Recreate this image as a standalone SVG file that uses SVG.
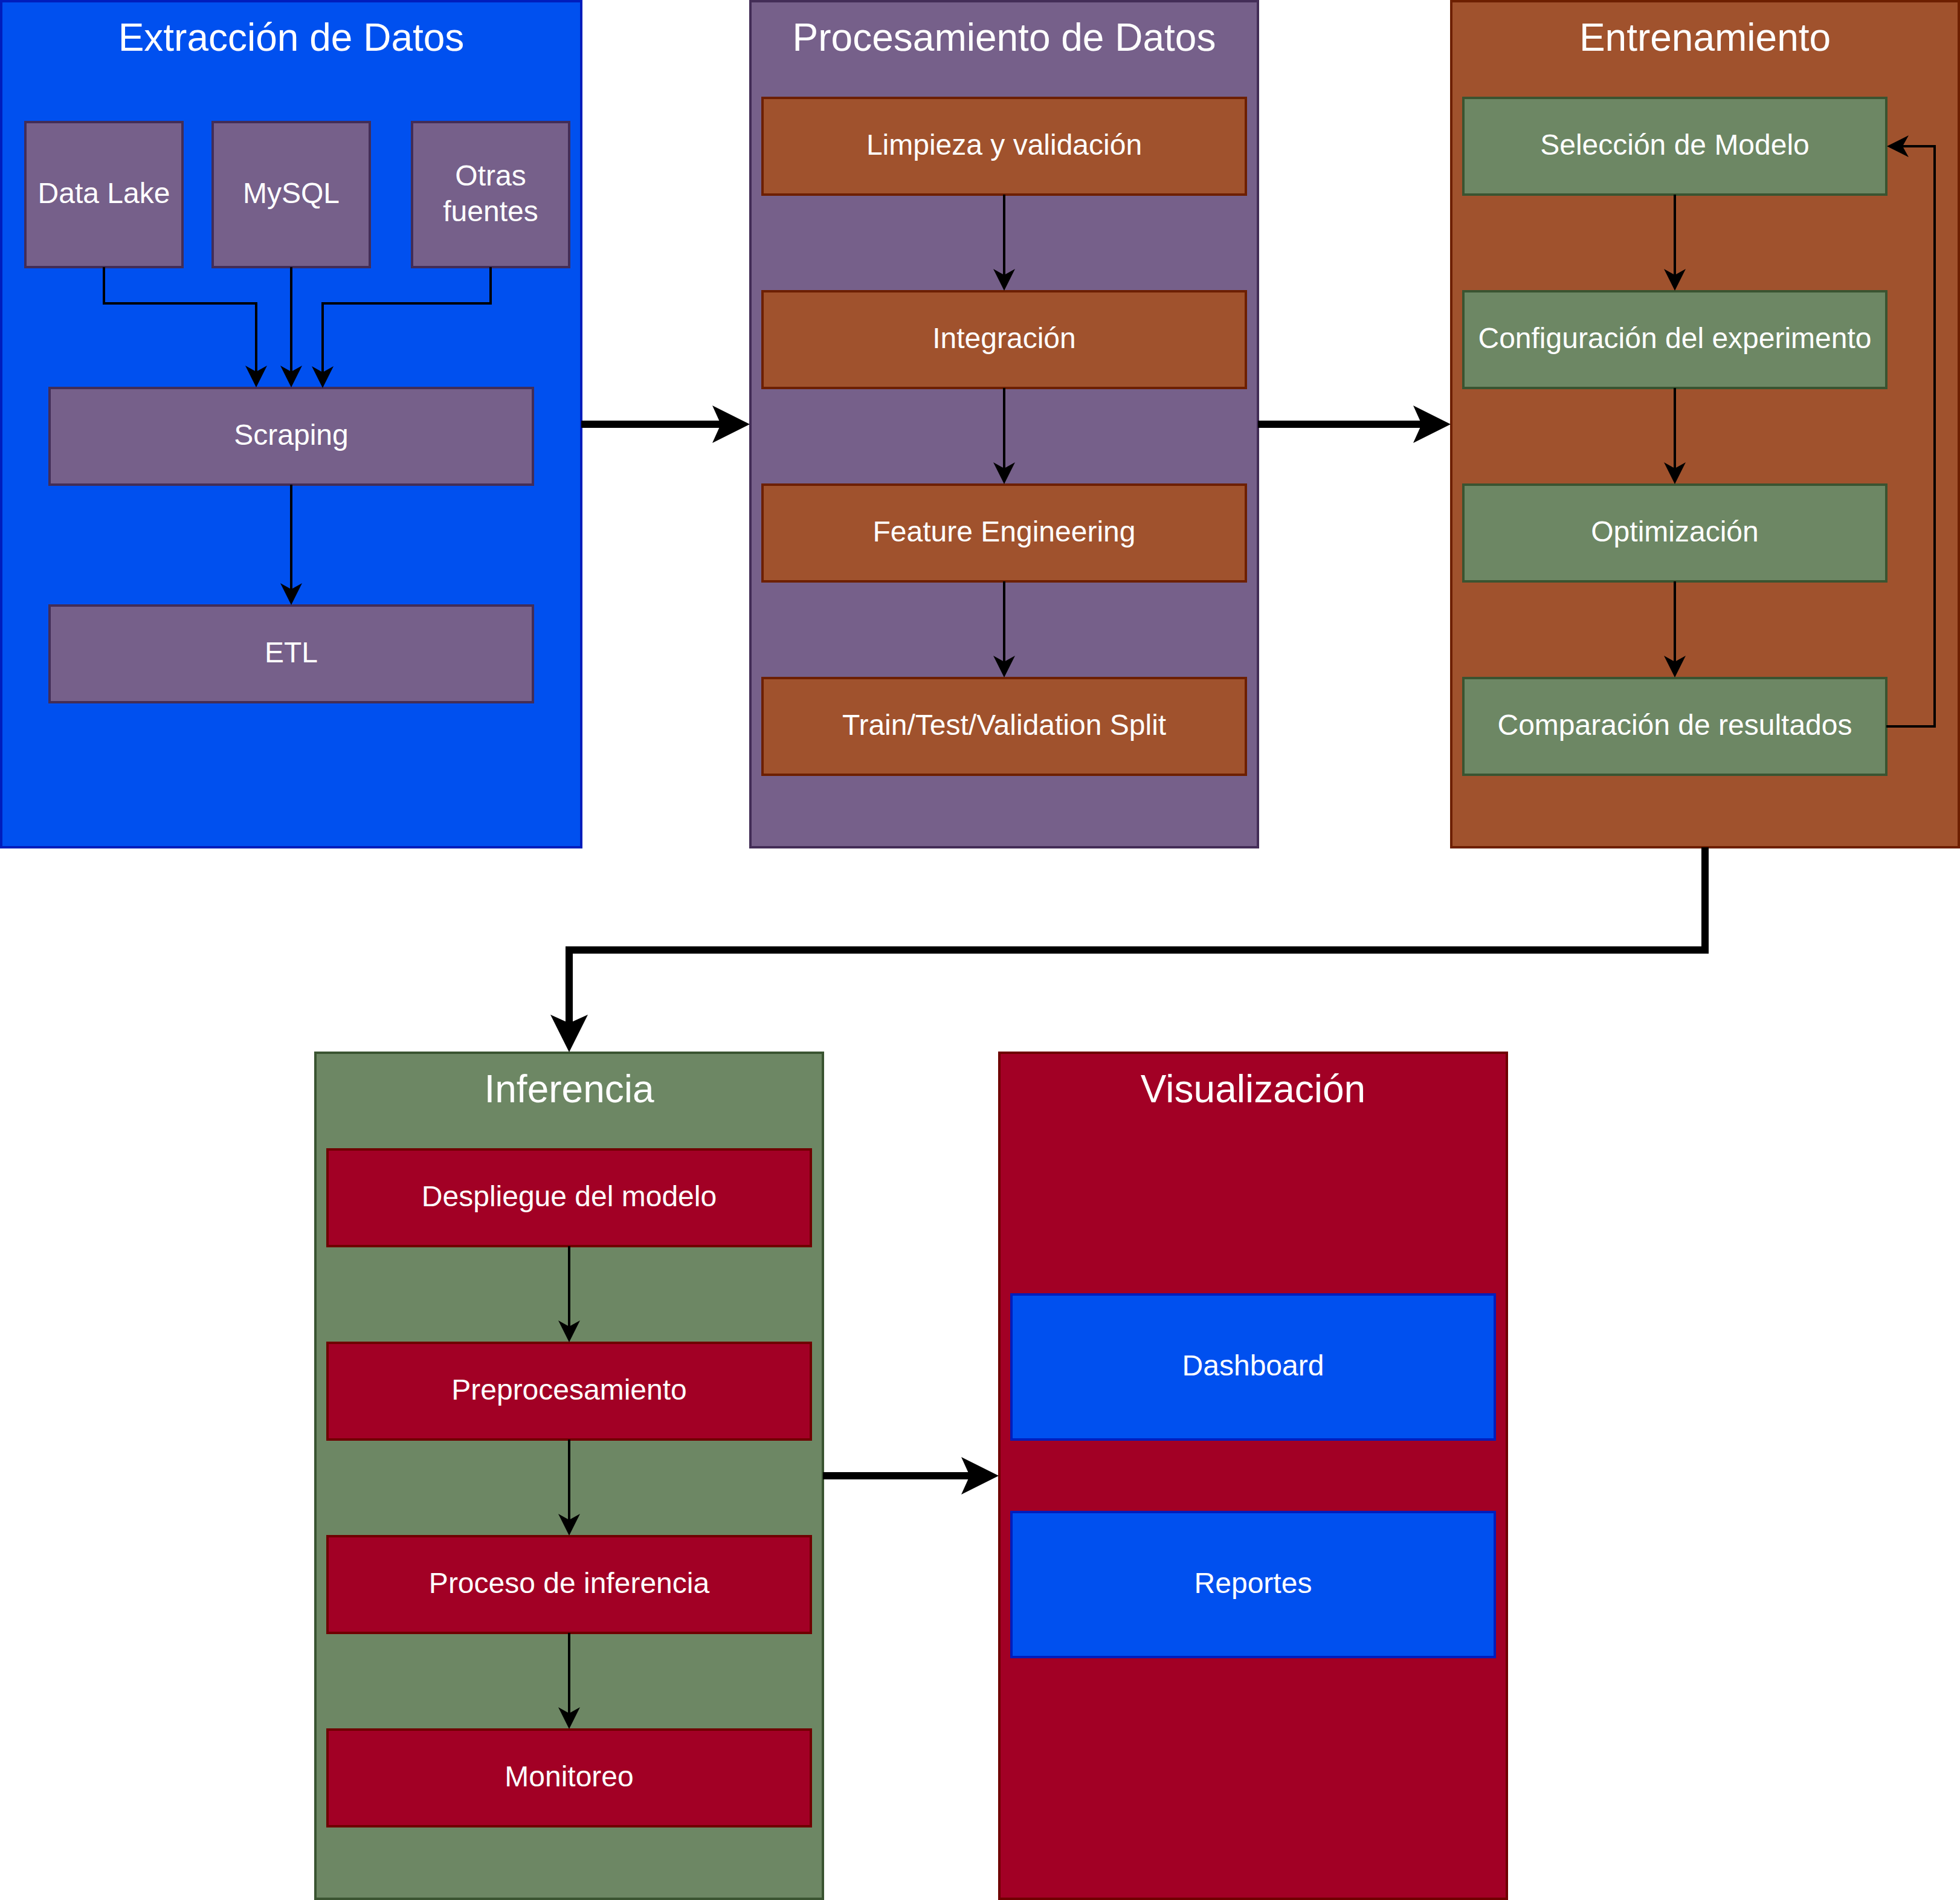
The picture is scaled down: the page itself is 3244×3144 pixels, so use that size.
<svg xmlns="http://www.w3.org/2000/svg" width="3244" height="3144" viewBox="0 0 3244 3144">
<style>
text{font-family:"Liberation Sans",Arial,Helvetica,sans-serif;fill:#ffffff;text-anchor:middle}
.title{font-size:64px}
.lbl{font-size:48px}
rect{stroke-width:4}
.blue{fill:#0050ef;stroke:#001dbc}
.purple{fill:#76608a;stroke:#432d57}
.brown{fill:#a0522d;stroke:#6d1f00}
.green{fill:#6d8764;stroke:#3a5431}
.red{fill:#a20025;stroke:#6f0000}
.thin{fill:none;stroke:#000;stroke-width:4;marker-end:url(#a1)}
.thick{fill:none;stroke:#000;stroke-width:12;stroke-linejoin:miter;marker-end:url(#a3)}
</style>
<defs>
<marker id="a1" markerUnits="userSpaceOnUse" viewBox="-10 -18 36 36" markerWidth="36" markerHeight="36" refX="0" refY="0" orient="auto" overflow="visible">
<path d="M26,0 L-10,-18 L0,0 L-10,18 Z" fill="#000"/>
</marker>
<marker id="a3" markerUnits="userSpaceOnUse" viewBox="-14 -31 62 62" markerWidth="62" markerHeight="62" refX="0" refY="0" orient="auto" overflow="visible">
<path d="M48,0 L-14,-31 L0,0 L-14,31 Z" fill="#000"/>
</marker>
</defs>
<rect x="0" y="0" width="3244" height="3144" fill="#ffffff" stroke="none"/>

<g id="extraccion">
<rect class="blue" x="2" y="2" width="960" height="1400"/>
<text class="title" x="482" y="84">Extracción de Datos</text>
</g>
<g id="datalake"><rect class="purple" x="42" y="202" width="260" height="240"/><text class="lbl" x="172" y="336">Data Lake</text></g>
<g id="mysql"><rect class="purple" x="352" y="202" width="260" height="240"/><text class="lbl" x="482" y="336">MySQL</text></g>
<g id="otras"><rect class="purple" x="682" y="202" width="260" height="240"/><text class="lbl" x="812" y="307">Otras</text><text class="lbl" x="812" y="366">fuentes</text></g>
<g id="scraping"><rect class="purple" x="82" y="642" width="800" height="160"/><text class="lbl" x="482" y="736">Scraping</text></g>
<g id="etl"><rect class="purple" x="82" y="1002" width="800" height="160"/><text class="lbl" x="482" y="1096">ETL</text></g>

<g id="procesamiento">
<rect class="purple" x="1242" y="2" width="840" height="1400"/>
<text class="title" x="1662" y="84">Procesamiento de Datos</text>
</g>
<g id="limpieza"><rect class="brown" x="1262" y="162" width="800" height="160"/><text class="lbl" x="1662" y="256">Limpieza y validación</text></g>
<g id="integracion"><rect class="brown" x="1262" y="482" width="800" height="160"/><text class="lbl" x="1662" y="576">Integración</text></g>
<g id="feature"><rect class="brown" x="1262" y="802" width="800" height="160"/><text class="lbl" x="1662" y="896">Feature Engineering</text></g>
<g id="split"><rect class="brown" x="1262" y="1122" width="800" height="160"/><text class="lbl" x="1662" y="1216">Train/Test/Validation Split</text></g>

<g id="entrenamiento">
<rect class="brown" x="2402" y="2" width="840" height="1400"/>
<text class="title" x="2822" y="84">Entrenamiento</text>
</g>
<g id="seleccion"><rect class="green" x="2422" y="162" width="700" height="160"/><text class="lbl" x="2772" y="256">Selección de Modelo</text></g>
<g id="configuracion"><rect class="green" x="2422" y="482" width="700" height="160"/><text class="lbl" x="2772" y="576">Configuración del experimento</text></g>
<g id="optimizacion"><rect class="green" x="2422" y="802" width="700" height="160"/><text class="lbl" x="2772" y="896">Optimización</text></g>
<g id="comparacion"><rect class="green" x="2422" y="1122" width="700" height="160"/><text class="lbl" x="2772" y="1216">Comparación de resultados</text></g>

<g id="inferencia">
<rect class="green" x="522" y="1742" width="840" height="1400"/>
<text class="title" x="942" y="1824">Inferencia</text>
</g>
<g id="despliegue"><rect class="red" x="542" y="1902" width="800" height="160"/><text class="lbl" x="942" y="1996">Despliegue del modelo</text></g>
<g id="preprocesamiento"><rect class="red" x="542" y="2222" width="800" height="160"/><text class="lbl" x="942" y="2316">Preprocesamiento</text></g>
<g id="proceso"><rect class="red" x="542" y="2542" width="800" height="160"/><text class="lbl" x="942" y="2636">Proceso de inferencia</text></g>
<g id="monitoreo"><rect class="red" x="542" y="2862" width="800" height="160"/><text class="lbl" x="942" y="2956">Monitoreo</text></g>

<g id="visualizacion">
<rect class="red" x="1654" y="1742" width="840" height="1400"/>
<text class="title" x="2074" y="1824">Visualización</text>
</g>
<g id="dashboard"><rect class="blue" x="1674" y="2142" width="800" height="240"/><text class="lbl" x="2074" y="2276">Dashboard</text></g>
<g id="reportes"><rect class="blue" x="1674" y="2502" width="800" height="240"/><text class="lbl" x="2074" y="2636">Reportes</text></g>

<g id="connectors">
<path class="thin" d="M172,442 V502 H424 V615"/>
<path class="thin" d="M482,442 V615"/>
<path class="thin" d="M812,442 V502 H534 V616"/>
<path class="thin" d="M482,802 V975"/>
<path class="thin" d="M1662,322 V455"/>
<path class="thin" d="M1662,642 V775"/>
<path class="thin" d="M1662,962 V1095"/>
<path class="thin" d="M2772,322 V455"/>
<path class="thin" d="M2772,642 V775"/>
<path class="thin" d="M2772,962 V1095"/>
<path class="thin" d="M3122,1202 H3202 V242 H3149"/>
<path class="thin" d="M942,2062 V2195"/>
<path class="thin" d="M942,2382 V2515"/>
<path class="thin" d="M942,2702 V2835"/>
<path class="thick" d="M962,702 H1193"/>
<path class="thick" d="M2082,702 H2353"/>
<path class="thick" d="M2822,1402 V1572 H942 V1693"/>
<path class="thick" d="M1362,2442 H1605"/>
</g>
</svg>
